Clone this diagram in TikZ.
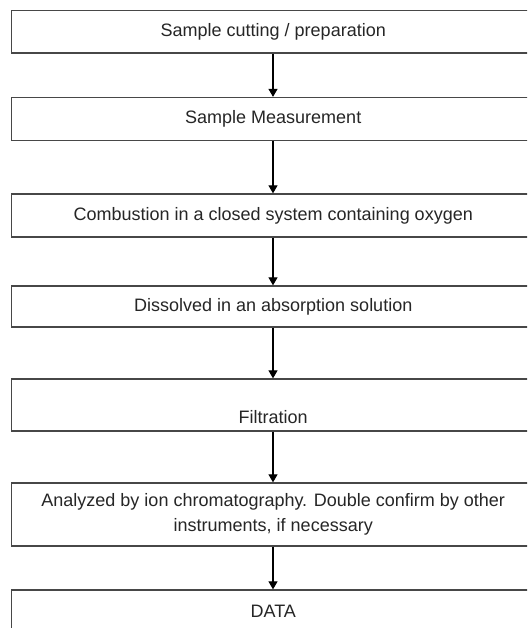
\documentclass[tikz,border=0pt]{standalone}
\usepackage{fontspec}
\setmainfont{Liberation Sans}
\usetikzlibrary{arrows.meta}
\begin{document}
\begin{tikzpicture}[x=1pt,y=-1pt,
  boxtext/.style={font=\fontsize{18}{24.5}\selectfont, text=black!85},
  stepbox/.style={boxtext, draw=black!72, line width=1.3pt, rectangle, minimum width=523.5pt, inner sep=0pt, align=center},
  flow/.style={draw=black, line width=1.1pt, -{Triangle[length=8pt,width=9pt]}}]
\useasboundingbox (0,0) rectangle (527,628);
\clip (0,0) rectangle (527,628);
\fill[white] (0,0) rectangle (527,628);
\node[stepbox, minimum height=42.5pt] (n1) at (273.25,31.75) {Sample cutting / preparation};
\node[stepbox, minimum height=43pt] (n2) at (273.25,119) {Sample Measurement};
\node[stepbox, minimum height=43pt] (n3) at (273.25,215.5) {Combustion in a closed system containing oxygen};
\node[stepbox, minimum height=41pt] (n4) at (273.25,306.5) {Dissolved in an absorption solution};
\node[stepbox, minimum height=52pt] (n5) at (273.25,405) {};
\node[boxtext, inner sep=0pt] (t5) at ([yshift=-12pt]n5.center) {Filtration};
\node[stepbox, minimum height=63pt] (n6) at (273.25,514.5) {Analyzed by ion chromatography. Double confirm by other\\instruments, if necessary};
\node[stepbox, minimum height=42pt] (n7) at (273.25,611) {DATA};
\coordinate (ax) at (273,0);
\draw[flow] (n1.south -| ax) -- (n2.north -| ax);
\draw[flow] (n2.south -| ax) -- (n3.north -| ax);
\draw[flow] (n3.south -| ax) -- (n4.north -| ax);
\draw[flow] (n4.south -| ax) -- (n5.north -| ax);
\draw[flow] (n5.south -| ax) -- (n6.north -| ax);
\draw[flow] (n6.south -| ax) -- (n7.north -| ax);
\end{tikzpicture}
\end{document}
